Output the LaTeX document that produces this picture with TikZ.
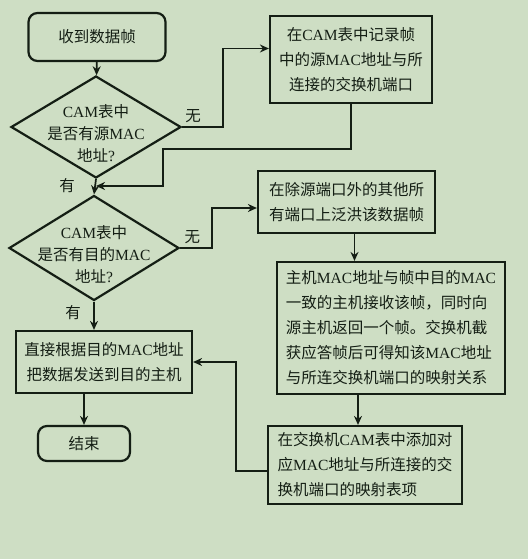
\documentclass[tikz,border=0pt]{standalone}
\usepackage{fontspec}
\setmainfont{Noto Sans CJK SC}
\newfontfamily\latfont{Liberation Serif}
\newcommand\lat[1]{{\latfont #1}}
\usepackage{xcolor}
\usepackage{tikz}
\usetikzlibrary{positioning, shapes.geometric, arrows.meta, calc}
\definecolor{bgcolor}{RGB}{206,222,196}
\definecolor{inkcolor}{RGB}{20,30,20}

\begin{document}
\begin{tikzpicture}[
    x=1pt, y=-1pt,
    every node/.style={text=inkcolor},
    terminal/.style={rectangle, draw=inkcolor, rounded corners=9pt, line width=2.2pt, inner sep=2pt, font=\fontsize{15.5}{24}\selectfont},
    decision/.style={diamond, draw=inkcolor, line width=2.2pt, inner sep=0pt, minimum width=170pt, minimum height=102pt},
    process/.style={rectangle, draw=inkcolor, line width=2.2pt, inner sep=2pt, align=center, font=\fontsize{15.5}{25}\selectfont},
    dtext/.style={align=center, font=\fontsize{15.5}{22}\selectfont},
    lbl/.style={font=\fontsize{15.5}{18}\selectfont},
    line/.style={draw=inkcolor, line width=1.7pt},
    >={Stealth[length=9pt,width=8pt]}
]

% 背景
\fill[bgcolor] (0,0) rectangle (528,559);
\useasboundingbox (0,0) rectangle (528,559);

% 左列
\node[terminal, minimum width=137pt, minimum height=48pt] (start) at (97,37) {收到数据帧};
\node[decision] (d1) at (96,127) {};
\node[dtext] at ($(d1)+(0,6)$) {\lat{CAM}表中\\是否有源\lat{MAC}\\地址\lat{?}};
\node[decision, minimum height=105pt] (d2) at (94,248) {};
\node[dtext] at ($(d2)+(0,6)$) {\lat{CAM}表中\\是否有目的\lat{MAC}\\地址\lat{?}};
\node[process, minimum width=176pt, minimum height=62pt] (send) at (104,362)
    {直接根据目的\lat{MAC}地址\\把数据发送到目的主机};
\node[terminal, minimum width=92pt, minimum height=35pt] (end) at (84,443.5) {结束};

% 右列
\node[process, minimum width=162pt, minimum height=87pt] (rec) at (351,59.5)
    {在\lat{CAM}表中记录帧\\中的源\lat{MAC}地址与所\\连接的交换机端口};
\node[process, minimum width=177pt, minimum height=62pt] (flood) at (346.5,202)
    {在除源端口外的其他所\\有端口上泛洪该数据帧};
\node[process, align=left, minimum width=228pt, minimum height=132pt] (host) at (391,328)
    {主机\lat{MAC}地址与帧中目的\lat{MAC}\\一致的主机接收该帧，同时向\\源主机返回一个帧。交换机截\\获应答帧后可得知该\lat{MAC}地址\\与所连交换机端口的映射关系};
\node[process, align=left, minimum width=194pt, minimum height=78pt] (tbl) at (365,465)
    {在交换机\lat{CAM}表中添加对\\应\lat{MAC}地址与所连接的交\\换机端口的映射表项};

\coordinate (join) at (96,186);

% 连接线
\draw[line, ->] (start) -- (d1);
\draw[line, ->] (d1.east) -- node[lbl, above, pos=0.27] {无} ++(41,0) |- ([yshift=11pt]rec.west);
\draw[line, ->] (rec.south) -- ++(0,45) -| ([xshift=67pt]join) -- (join);
\draw[line, ->] (d1.south) -- (d2.north);
\node[lbl] at (67,186) {有};
\draw[line, ->] (d2.east) -- node[lbl, above, pos=0.38] {无} ++(32,0) |- ([yshift=-6pt]flood.west);
\draw[line, ->] ([xshift=8pt]flood.south) -- ([xshift=8pt]flood.south |- host.north);
\draw[line, ->] ([xshift=-33pt]host.south) -- ([xshift=-33pt]host.south |- tbl.north);
\draw[line, ->] ([yshift=-6pt]tbl.west) -- ++(-31,0) |- (send.east);
\draw[line, ->] (d2.south) -- (d2.south |- send.north);
\node[lbl] at (73,313) {有};
\draw[line, ->] (end.north |- send.south) -- (end.north);

\end{tikzpicture}
\end{document}
